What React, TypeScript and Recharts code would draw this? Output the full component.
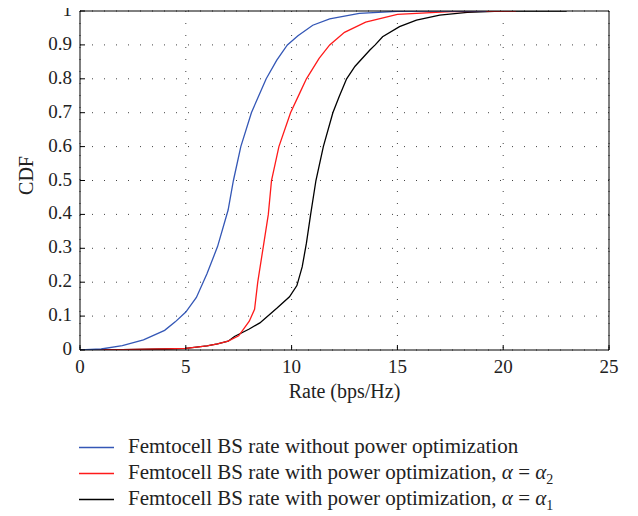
import React from 'react';
import { LineChart, Line, XAxis, YAxis, CartesianGrid, Label } from 'recharts';

// x = rate (bps/Hz), y = CDF
const blueRate = [0, 1, 2, 3, 4, 4.5, 5, 5.5, 6, 6.5, 7, 7.25, 7.6, 8.1, 8.8, 9.3, 9.8, 10.3, 11, 11.8, 13.2, 15, 17, 19.2];
const blueCdf = [0, 0.003, 0.013, 0.03, 0.058, 0.083, 0.112, 0.155, 0.225, 0.305, 0.413, 0.5, 0.6, 0.7, 0.8, 0.855, 0.9, 0.927, 0.958, 0.977, 0.993, 0.999, 1, 1];

const redRate = [0, 2, 4, 5, 6, 6.5, 7, 7.5, 8, 8.25, 8.4, 8.65, 8.9, 9.05, 9.4, 9.95, 10.4, 10.7, 11.3, 11.8, 12.5, 13.5, 15, 17.5, 20.6];
const redCdf = [0, 0.001, 0.003, 0.005, 0.012, 0.018, 0.026, 0.042, 0.085, 0.12, 0.2, 0.3, 0.4, 0.5, 0.6, 0.7, 0.76, 0.8, 0.86, 0.9, 0.937, 0.967, 0.99, 0.998, 1];

const blackRate = [0, 2, 4, 5, 6, 6.5, 7, 7.3, 8, 8.5, 9.3, 9.9, 10.25, 10.5, 10.7, 10.9, 11.15, 11.5, 11.95, 12.25, 12.6, 13.0, 13.7, 13.95, 14.3, 15.1, 15.9, 17, 18.3, 19.9, 23];
const blackCdf = [0, 0.001, 0.003, 0.005, 0.012, 0.018, 0.026, 0.04, 0.062, 0.08, 0.123, 0.157, 0.19, 0.245, 0.315, 0.4, 0.5, 0.6, 0.7, 0.748, 0.8, 0.837, 0.885, 0.9, 0.924, 0.954, 0.973, 0.988, 0.996, 1, 1];

const xTicks = [0, 5, 10, 15, 20, 25];
const yTicks = [0, 0.1, 0.2, 0.3, 0.4, 0.5, 0.6, 0.7, 0.8, 0.9, 1];

const zip = (xs: number[], ys: number[]) => xs.map((x, i) => ({ x, y: ys[i] }));
const blueData = zip(blueRate, blueCdf);
const redData = zip(redRate, redCdf);
const blackData = zip(blackRate, blackCdf);

const FONT = '"Liberation Serif", serif';
const BLUE = '#3457b6';
const RED = '#ff1a1a';
const BLACK = '#000000';
const TICK = 5;

const BottomTick = (props: any) => {
  const { x, y, payload } = props;
  return (
    <g>
      <line x1={x} y1={y} x2={x} y2={y - TICK} stroke="#000" />
      <text x={x} y={y + 23} textAnchor="middle" fontFamily={FONT} fontSize={19} fill="#222">
        {payload.value}
      </text>
    </g>
  );
};

const TopTick = (props: any) => {
  const { x, y } = props;
  return <line x1={x} y1={y} x2={x} y2={y + TICK} stroke="#000" />;
};

const LeftTick = (props: any) => {
  const { x, y, payload } = props;
  return (
    <g>
      <line x1={x} y1={y} x2={x + TICK} y2={y} stroke="#000" />
      <text x={x - 8} y={y + 5} textAnchor="end" fontFamily={FONT} fontSize={19} fill="#222">
        {payload.value}
      </text>
    </g>
  );
};

const RightTick = (props: any) => {
  const { x, y } = props;
  return <line x1={x} y1={y} x2={x - TICK} y2={y} stroke="#000" />;
};

const XLabel = (props: any) => {
  const { viewBox } = props;
  return (
    <text x={viewBox.x + viewBox.width / 2} y={viewBox.y + 48} textAnchor="middle" fontFamily={FONT} fontSize={20} fill="#222">
      Rate (bps/Hz)
    </text>
  );
};

const YLabel = (props: any) => {
  const { viewBox } = props;
  const cx = 18;
  const cy = viewBox.y + viewBox.height / 2 - 5;
  return (
    <text
      x={cx}
      y={cy}
      transform={`rotate(-90 ${cx} ${cy})`}
      textAnchor="middle"
      dominantBaseline="central"
      fontFamily={FONT}
      fontSize={20}
      fill="#222"
    >
      CDF
    </text>
  );
};

const legendItems = [
  { color: BLUE, text: 'Femtocell BS rate without power optimization', sub: '' },
  { color: RED, text: 'Femtocell BS rate with power optimization, ', sub: '2' },
  { color: BLACK, text: 'Femtocell BS rate with power optimization, ', sub: '1' },
];

export default function App() {
  return (
    <div style={{ position: 'relative', width: 630, height: 516, marginTop: -8, background: '#fff', fontFamily: FONT }}>
      <LineChart width={630} height={420} margin={{ top: 8, right: 0, bottom: 0, left: 0 }}>
        <CartesianGrid stroke="#444" strokeDasharray="1 11" />
        <XAxis
          dataKey="x"
          type="number"
          domain={[0, 25]}
          ticks={xTicks}
          allowDataOverflow
          height={70}
          tickLine={false}
          tickSize={0}
          tickMargin={0}
          axisLine={{ stroke: '#000' }}
          tick={<BottomTick />}
          interval={0}
        >
          <Label content={<XLabel />} />
        </XAxis>
        <XAxis
          xAxisId="top"
          orientation="top"
          type="number"
          domain={[0, 25]}
          ticks={xTicks}
          height={3}
          tickLine={false}
          tickSize={0}
          tickMargin={0}
          axisLine={{ stroke: '#000' }}
          tick={<TopTick />}
          interval={0}
        />
        <YAxis
          type="number"
          domain={[0, 1]}
          ticks={yTicks}
          allowDataOverflow
          width={72}
          tickLine={false}
          tickSize={0}
          tickMargin={0}
          axisLine={{ stroke: '#000' }}
          tick={<LeftTick />}
          interval={0}
        >
          <Label content={<YLabel />} />
        </YAxis>
        <YAxis
          yAxisId="right"
          orientation="right"
          type="number"
          domain={[0, 1]}
          ticks={yTicks}
          width={29}
          tickLine={false}
          tickSize={0}
          tickMargin={0}
          axisLine={{ stroke: '#000' }}
          tick={<RightTick />}
          interval={0}
        />
        <Line data={blackData} dataKey="y" type="linear" stroke={BLACK} strokeWidth={1.3} dot={false} isAnimationActive={false} />
        <Line data={redData} dataKey="y" type="linear" stroke={RED} strokeWidth={1.3} dot={false} isAnimationActive={false} />
        <Line data={blueData} dataKey="y" type="linear" stroke={BLUE} strokeWidth={1.3} dot={false} isAnimationActive={false} />
      </LineChart>
      {legendItems.map((item, i) => (
        <div
          key={i}
          style={{
            position: 'absolute',
            left: 71,
            top: 433 + i * 26,
            height: 26,
            lineHeight: '26px',
            fontSize: 21,
            color: '#222',
            whiteSpace: 'nowrap',
          }}
        >
          <svg width={36} height={26} style={{ position: 'absolute', left: 0, top: 0 }}>
            <line x1={0} y1={14.5} x2={35} y2={14.5} stroke={item.color} strokeWidth={1.4} />
          </svg>
          <span style={{ position: 'absolute', left: 49, top: 0 }}>
            {item.text}
            {item.sub && (
              <>
                <i>α</i> = <i>α</i>
                <sub style={{ fontSize: 14, lineHeight: 0 }}>{item.sub}</sub>
              </>
            )}
          </span>
        </div>
      ))}
    </div>
  );
}
